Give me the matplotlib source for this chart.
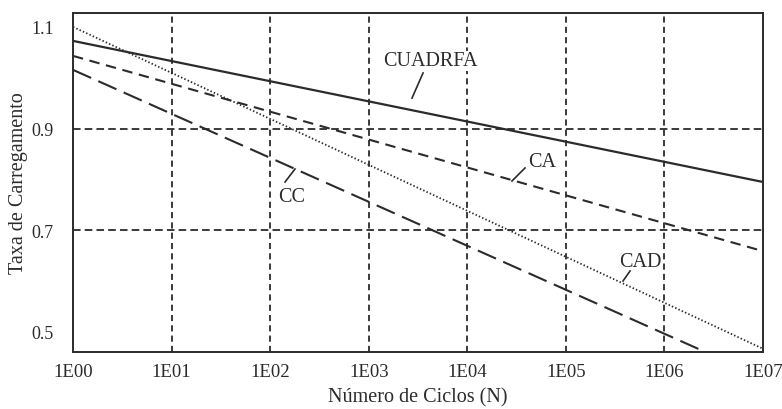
import matplotlib
matplotlib.use('Agg')
import matplotlib.pyplot as plt

plt.rcParams['font.family'] = ['Liberation Serif', 'DejaVu Serif']

# fatigue curves: straight lines in log(N), given by their end values
ciclos = [1e0, 1e7]
cuadrfa = [1.0725, 0.795]
ca = [1.043, 0.659]
cc = [1.0155, 0.410]
cad = [1.100, 0.467]

xticks = [1e0, 1e1, 1e2, 1e3, 1e4, 1e5, 1e6, 1e7]
xlabels = ['1E00', '1E01', '1E02', '1E03', '1E04', '1E05', '1E06', '1E07']
yticks = [0.5, 0.7, 0.9, 1.1]
ylabels = ['0.5', '0.7', '0.9', '1.1']

ink = '#2b2b2b'

fig = plt.figure(figsize=(7.82, 4.10), dpi=100)
ax = fig.add_axes([0.0934, 0.139, 0.8823, 0.827])

ax.set_xscale('log')
ax.set_xlim(1e0, 1e7)
ax.set_ylim(0.4606, 1.1275)

# grid: every decade, plus the two inner load levels
for x in xticks[1:-1]:
    ax.axvline(x, color=ink, lw=1.3, linestyle=(0, (3.4, 2.3)), zorder=1)
for y in yticks[1:-1]:
    ax.axhline(y, color=ink, lw=1.3, linestyle=(0, (4.2, 2.3)), zorder=1)

ax.plot(ciclos, cuadrfa, color=ink, lw=1.6, solid_capstyle='butt', zorder=3)
ax.plot(ciclos, ca, color=ink, lw=1.5, linestyle=(0, (5.0, 3.2)), zorder=3)
ax.plot(ciclos, cc, color=ink, lw=1.5, linestyle=(0, (9.5, 3.8)), zorder=3)
ax.plot(ciclos, cad, color=ink, lw=1.3, linestyle=(0, (0.8, 1.2)), zorder=3)

# curve labels with short leader lines
labels = [
    ('CUADRFA', (4188, 1.033), (2748, 0.960), (3556, 1.0095)),
    ('CA', (57300, 0.8344), (28400, 0.797), (38500, 0.8226)),
    ('CC', (166.7, 0.7656), (141.5, 0.795), (178.7, 0.8206)),
    ('CAD', (565000, 0.6377), (380000, 0.6003), (448000, 0.620)),
]
for name, pos, p0, p1 in labels:
    ax.text(pos[0], pos[1], name, ha='center', va='center',
            fontsize=14.5, color=ink, zorder=4,
            bbox=dict(facecolor='white', edgecolor='none', pad=0.5))
    ax.plot([p0[0], p1[0]], [p0[1], p1[1]], color=ink, lw=1.2, zorder=4)

ax.set_xticks(xticks)
ax.set_xticklabels(xlabels)
ax.minorticks_off()
ax.set_yticks(yticks)
ax.set_yticklabels(ylabels)
ax.tick_params(axis='x', length=0, pad=8, labelsize=13.5, labelcolor=ink)
ax.tick_params(axis='y', length=0, pad=14, labelsize=13, labelcolor=ink)

ax.set_xlabel('Número de Ciclos (N)', fontsize=14.5, color=ink, labelpad=5)
ax.set_ylabel('Taxa de Carregamento', fontsize=14.5, color=ink, labelpad=2)

for s in ax.spines.values():
    s.set_color(ink)
    s.set_linewidth(1.4)

fig.savefig('out.png', dpi=100)
